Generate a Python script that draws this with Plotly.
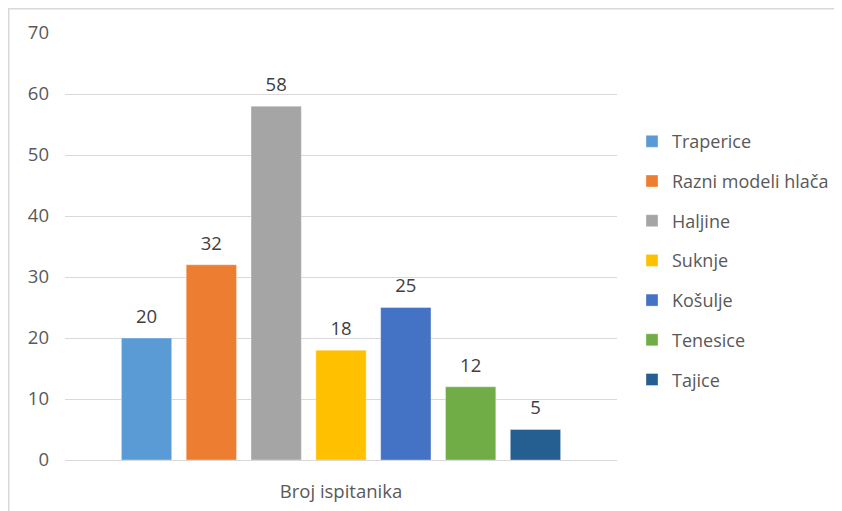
import plotly.graph_objects as go

category = ["Broj ispitanika"]
series_names = ["Traperice", "Razni modeli hlača", "Haljine", "Suknje", "Košulje", "Tenesice", "Tajice"]
series_values = [20, 32, 58, 18, 25, 12, 5]
series_colors = ["#5B9BD5", "#ED7D31", "#A5A5A5", "#FFC000", "#4472C4", "#70AD47", "#255E91"]
y_ticks = [0, 10, 20, 30, 40, 50, 60, 70]

W, H = 842, 511
L, R, T, B = 57, 233, 25, 59
pw, ph = W - L - R, H - T - B
LABEL_PAD = 1.15  # gap between bar top and its data label, in axis units

font_family = "'Open Sans', sans-serif"

fig = go.Figure()
for name, val, col in zip(series_names, series_values, series_colors):
    fig.add_trace(go.Bar(
        x=category, y=[val], name=name, legendgroup=name, offsetgroup=name,
        marker=dict(color=col, line=dict(color="rgba(255,255,255,0.35)", width=1)),
        hoverinfo="name+y",
    ))
    # transparent spacer carrying the data label, sitting on top of the bar
    fig.add_trace(go.Bar(
        x=category, y=[LABEL_PAD], base=[val], name=name, legendgroup=name,
        offsetgroup=name, showlegend=False, hoverinfo="skip",
        marker=dict(color="rgba(0,0,0,0)", line=dict(width=0)),
        text=[str(val)], textposition="outside", cliponaxis=False,
        textfont=dict(size=18.5, color="#404040", family=font_family),
    ))

def px_to_paper_x(px):
    return (px - L) / pw

def px_to_paper_y(py):
    return (H - B - py) / ph

fig.update_layout(
    width=W, height=H,
    margin=dict(l=L, r=R, t=T, b=B, autoexpand=False),
    paper_bgcolor="white", plot_bgcolor="white",
    barmode="group", bargap=0.178, bargroupgap=0.224,
    font=dict(family=font_family, size=16, color="#595959"),
    showlegend=True,
    legend=dict(
        x=1 + 15 / pw, y=0.789, xref="paper", yref="paper",
        xanchor="left", yanchor="top",
        traceorder="grouped", tracegroupgap=13.3,
        font=dict(size=18, color="#595959", family=font_family),
        itemwidth=30, bgcolor="rgba(0,0,0,0)",
    ),
    xaxis=dict(
        showgrid=False, showline=True, linecolor="#D9D9D9", linewidth=1,
        ticks="", ticklabelstandoff=15, automargin=False,
        tickfont=dict(size=18.5, color="#595959"),
    ),
    yaxis=dict(
        range=[0, 70], tickvals=y_ticks, showgrid=True, gridcolor="#D9D9D9",
        gridwidth=1, zeroline=False, showline=False, ticks="", automargin=False,
        ticklabelstandoff=15, tickfont=dict(size=18.5, color="#595959"),
    ),
    shapes=[dict(
        type="rect", xref="paper", yref="paper",
        x0=px_to_paper_x(0.75), x1=px_to_paper_x(W + 5),
        y0=px_to_paper_y(H + 5), y1=px_to_paper_y(0.75),
        line=dict(color="#D9D9D9", width=1.5), layer="below",
    )],
)

fig.write_html("out.html")
